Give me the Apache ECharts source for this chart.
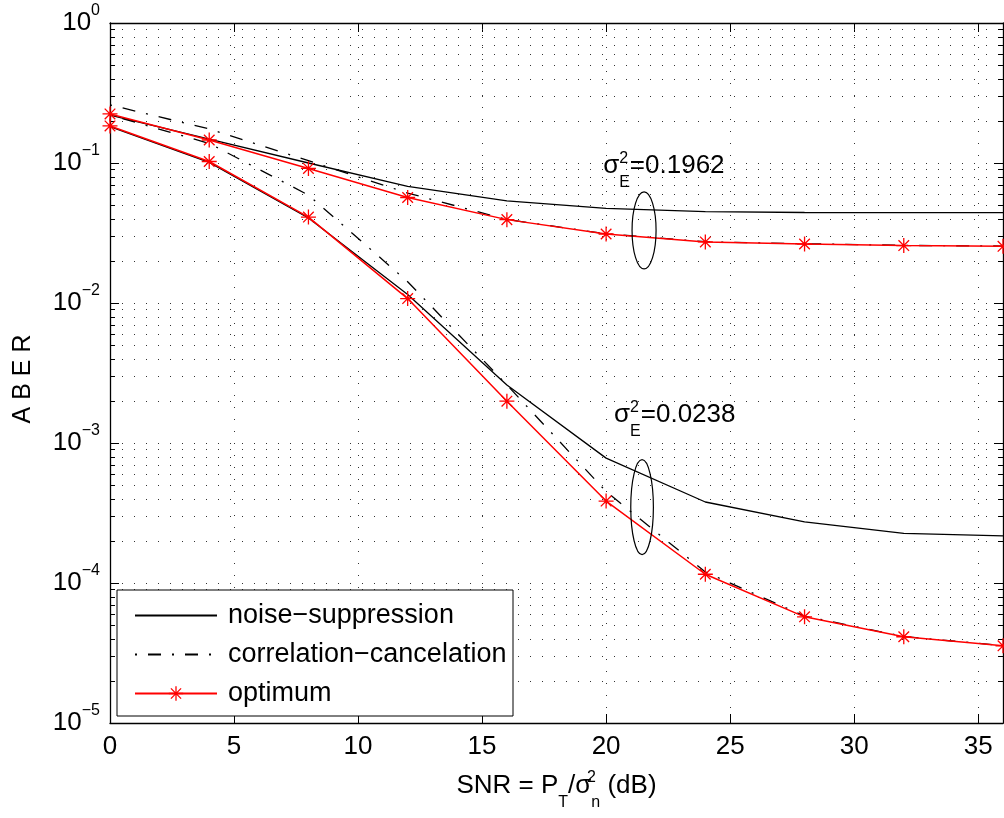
<!DOCTYPE html>
<html>
<head>
<meta charset="utf-8">
<script src="https://cdn.jsdelivr.net/npm/echarts@6/dist/echarts.min.js"></script>
<style>
  html, body { margin: 0; padding: 0; background: #fff; }
  #chart { width: 1004px; height: 818px; }
</style>
</head>
<body>
<div id="chart"></div>
<script>
// SNR sample points (dB)
const snrDb = [0, 4, 8, 12, 16, 20, 24, 28, 32, 36];

// sigma_E^2 = 0.1962
const noiseHigh = [0.22, 0.148, 0.100, 0.068, 0.0537, 0.0474, 0.0450, 0.0443, 0.0442, 0.0442];
const corrHigh  = [0.26, 0.175, 0.104, 0.061, 0.0395, 0.0312, 0.0274, 0.0265, 0.0258, 0.0255];
const optHigh   = [0.224, 0.146, 0.0914, 0.0567, 0.0394, 0.0311, 0.0273, 0.0264, 0.0257, 0.0254];

// sigma_E^2 = 0.0238
const noiseLow = [0.182, 0.101, 0.0405, 0.0115, 0.0026, 0.00078, 0.000379, 0.000273, 0.000226, 0.000217];
const corrLow  = [0.22, 0.138, 0.059, 0.0142, 0.0026, 0.00045, 0.00012, 0.000058, 0.0000415, 0.0000357];
const optLow   = [0.184, 0.1025, 0.0411, 0.01075, 0.00199, 0.000385, 0.0001155, 0.0000573, 0.0000413, 0.0000356];

// axes
const xMin = 0, xMax = 36, xTickStep = 5;
const decadeExponents = [-5, -4, -3, -2, -1, 0];
const minorFactors = [2, 3, 4, 5, 6, 7, 8, 9];

// group annotations: ellipse centre (dB, ABER), half sizes (dB, decades), label anchor, label value
const ellipseCenters = [[21.53, 0.0330], [21.45, 0.000348]];
const ellipseHalfSizes = [[0.484, 0.275], [0.456, 0.339]];
const groupLabelAnchors = [[19.88, 0.0953], [20.32, 0.00159]];
const groupLabelValues = ['0.1962', '0.0238'];

const legendNames = ['noise\u2212suppression', 'correlation\u2212cancelation', 'optimum'];

const FONT = "'Liberation Sans', Arial, Helvetica, sans-serif";
const MINUS = '\u2212';

const minorGridValues = [];
decadeExponents.slice(0, -1).forEach(e => {
  minorFactors.forEach(f => minorGridValues.push(f * Math.pow(10, e)));
});

const pairs = ys => snrDb.map((x, i) => [x, ys[i]]);

const starSymbol = 'path://M0,-10L0,10M-10,0L10,0M-7.07,-7.07L7.07,7.07M-7.07,7.07L7.07,-7.07';

const dotGrid = { color: '#333', width: 1, type: [1, 11] };
const MAJOR_TICK = 9, MINOR_TICK = 5;

function lineSeries(name, ys, kind) {
  const s = {
    type: 'line', name: name, data: pairs(ys),
    xAxisIndex: 0, yAxisIndex: 0,
    z: 3, silent: true, animation: false,
    emphasis: { disabled: true },
    symbol: 'none'
  };
  if (kind === 'solid') {
    s.lineStyle = { color: '#000', width: 1.3, type: 'solid' };
    s.itemStyle = { color: '#000' };
  } else if (kind === 'dashdot') {
    s.lineStyle = { color: '#000', width: 1.3, type: [13, 11, 2, 11], dashOffset: 24 };
    s.itemStyle = { color: '#000' };
  } else {
    s.lineStyle = { color: '#ff0000', width: 1.5, type: 'solid' };
    s.symbol = starSymbol;
    s.symbolSize = 15;
    s.showAllSymbol = true;
    s.itemStyle = { color: '#ff0000', borderColor: '#ff0000', borderWidth: 1.3 };
    s.z = 4;
  }
  return s;
}

// rich-text pieces: padding on top pushes a piece down, padding below lifts it up
const groupRich = {
  m:   { fontSize: 26, fontFamily: FONT, fill: '#000', color: '#000' },
  sup: { fontSize: 16, fontFamily: FONT, padding: [0, 0, 14, 0], width: 0, fill: '#000', color: '#000' },
  sub: { fontSize: 16, fontFamily: FONT, padding: [34, 0, 0, 0], fill: '#000', color: '#000' }
};

const chart = echarts.init(document.getElementById('chart'), null, { renderer: 'canvas' });

const option = {
  animation: false,
  backgroundColor: '#fff',
  grid: { left: 110, right: 1, top: 23, bottom: 95, containLabel: false, outerBoundsMode: 'none' },
  legend: {
    data: [
      { name: legendNames[0], itemStyle: { opacity: 0 } },
      { name: legendNames[1], itemStyle: { opacity: 0 } },
      { name: legendNames[2] }
    ],
    orient: 'vertical',
    left: 117, top: 590,
    itemWidth: 82, itemHeight: 18, itemGap: 12,
    padding: [12, 4, 9, 17],
    backgroundColor: '#fff', borderColor: '#000', borderWidth: 1, borderRadius: 0,
    selectedMode: false,
    itemStyle: { borderWidth: 1.3 },
    textStyle: { fontSize: 27, fontFamily: FONT, color: '#000', lineHeight: 26, width: 281, padding: [0, 0, 0, 6] }
  },
  xAxis: [
    {
      type: 'value', position: 'bottom', min: xMin, max: xMax, interval: xTickStep,
      name: '{m|SNR = P}{sub|T}{m|/\u03c3}{sup|2}{sub|n}{m| (dB)}',
      nameLocation: 'middle', nameGap: 38,
      nameTextStyle: {
        fontSize: 26, fontFamily: FONT, color: '#000',
        rich: {
          m:   { fontSize: 26, fontFamily: FONT, color: '#000' },
          sub: { fontSize: 16, fontFamily: FONT, color: '#000', padding: [34, 0, 0, 0] },
          sup: { fontSize: 16, fontFamily: FONT, color: '#000', padding: [0, 0, 16, 0], width: 0 }
        }
      },
      axisLine: { show: true, onZero: false, lineStyle: { color: '#000', width: 1.3 } },
      axisTick: { show: true, inside: true, length: MAJOR_TICK, lineStyle: { color: '#000', width: 1 } },
      axisLabel: { show: true, margin: 11, fontSize: 26, fontFamily: FONT, color: '#000', lineHeight: 26, showMaxLabel: false },
      splitLine: { show: true, lineStyle: dotGrid },
      minorTick: { show: false }, minorSplitLine: { show: false }
    },
    {
      type: 'value', position: 'top', min: xMin, max: xMax, interval: xTickStep,
      axisLine: { show: true, onZero: false, lineStyle: { color: '#000', width: 1.3 } },
      axisTick: { show: true, inside: true, length: MAJOR_TICK, lineStyle: { color: '#000', width: 1 } },
      axisLabel: { show: false },
      splitLine: { show: false }
    }
  ],
  yAxis: [
    {
      type: 'log', logBase: 10, position: 'left',
      min: Math.pow(10, decadeExponents[0]), max: Math.pow(10, decadeExponents[decadeExponents.length - 1]),
      interval: 1,
      name: 'A B E R', nameLocation: 'middle', nameRotate: 90, nameGap: 74,
      nameTextStyle: { fontSize: 25, fontFamily: FONT, color: '#000', padding: [0, 12, 0, 0] },
      axisLine: { show: true, onZero: false, lineStyle: { color: '#000', width: 1.3 } },
      axisTick: { show: true, inside: true, length: MAJOR_TICK, lineStyle: { color: '#000', width: 1 } },
      axisLabel: {
        show: true, margin: 10,
        formatter: v => {
          const e = Math.round(Math.log10(v));
          return '{b|10}{e|' + (e < 0 ? MINUS + (-e) : String(e)) + '}';
        },
        rich: {
          b: { fontSize: 26, fontFamily: FONT, color: '#000' },
          e: { fontSize: 16, fontFamily: FONT, color: '#000', padding: [0, 0, 24, 0] }
        }
      },
      splitLine: { show: true, lineStyle: dotGrid },
      minorTick: { show: false }, minorSplitLine: { show: false }
    },
    {
      type: 'log', logBase: 10, position: 'right',
      min: Math.pow(10, decadeExponents[0]), max: Math.pow(10, decadeExponents[decadeExponents.length - 1]),
      interval: 1,
      axisLine: { show: true, onZero: false, lineStyle: { color: '#000', width: 1.3 } },
      axisTick: { show: true, inside: true, length: MAJOR_TICK, lineStyle: { color: '#000', width: 1 } },
      axisLabel: { show: false },
      splitLine: { show: false }
    }
  ],
  series: [
    // minor log grid lines with inward minor ticks on both sides
    {
      type: 'custom', name: 'minor-grid', silent: true, z: 1, clip: false,
      xAxisIndex: 0, yAxisIndex: 0,
      data: minorGridValues.map(v => [xMin, v]),
      encode: { x: 0, y: 1 },
      renderItem: (params, api) => {
        const cs = params.coordSys;
        const y = Math.round(api.coord([xMin, api.value(1)])[1]) + 0.5;
        const x0 = cs.x, x1 = cs.x + cs.width;
        return {
          type: 'group',
          children: [
            { type: 'line', shape: { x1: x0, y1: y, x2: x1, y2: y }, style: { stroke: dotGrid.color, lineWidth: 1, lineDash: dotGrid.type } },
            { type: 'line', shape: { x1: x0, y1: y, x2: x0 + MINOR_TICK, y2: y }, style: { stroke: '#000', lineWidth: 1 } },
            { type: 'line', shape: { x1: x1 - MINOR_TICK, y1: y, x2: x1, y2: y }, style: { stroke: '#000', lineWidth: 1 } }
          ]
        };
      }
    },
    lineSeries(legendNames[0], noiseHigh, 'solid'),
    lineSeries(legendNames[0], noiseLow, 'solid'),
    lineSeries(legendNames[1], corrHigh, 'dashdot'),
    lineSeries(legendNames[1], corrLow, 'dashdot'),
    lineSeries(legendNames[2], optHigh, 'opt'),
    lineSeries(legendNames[2], optLow, 'opt'),
    // ellipses grouping the curves and the sigma_E^2 labels
    {
      type: 'custom', name: 'groups', silent: true, z: 6, clip: false,
      xAxisIndex: 0, yAxisIndex: 0,
      data: ellipseCenters.map(c => [c[0], c[1]]),
      encode: { x: 0, y: 1 },
      renderItem: (params, api) => {
        const i = params.dataIndex;
        const c = ellipseCenters[i];
        const h = ellipseHalfSizes[i];
        const p = api.coord(c);
        const top = api.coord([c[0], c[1] * Math.pow(10, h[1])]);
        const right = api.coord([c[0] + h[0], c[1]]);
        const q = api.coord(groupLabelAnchors[i]);
        return {
          type: 'group',
          children: [
            {
              type: 'ellipse',
              shape: { cx: p[0], cy: p[1], rx: right[0] - p[0], ry: p[1] - top[1] },
              style: { fill: null, stroke: '#000', lineWidth: 1.2 }
            },
            {
              type: 'text', x: q[0], y: q[1],
              style: {
                text: '{m|\u03c3}{sup|2}{sub|E}{m|=' + groupLabelValues[i] + '}',
                rich: groupRich,
                fontSize: 26, fontFamily: FONT, fill: '#000',
                align: 'left', verticalAlign: 'middle'
              }
            }
          ]
        };
      }
    }
  ]
};

chart.setOption(option);
</script>
</body>
</html>
